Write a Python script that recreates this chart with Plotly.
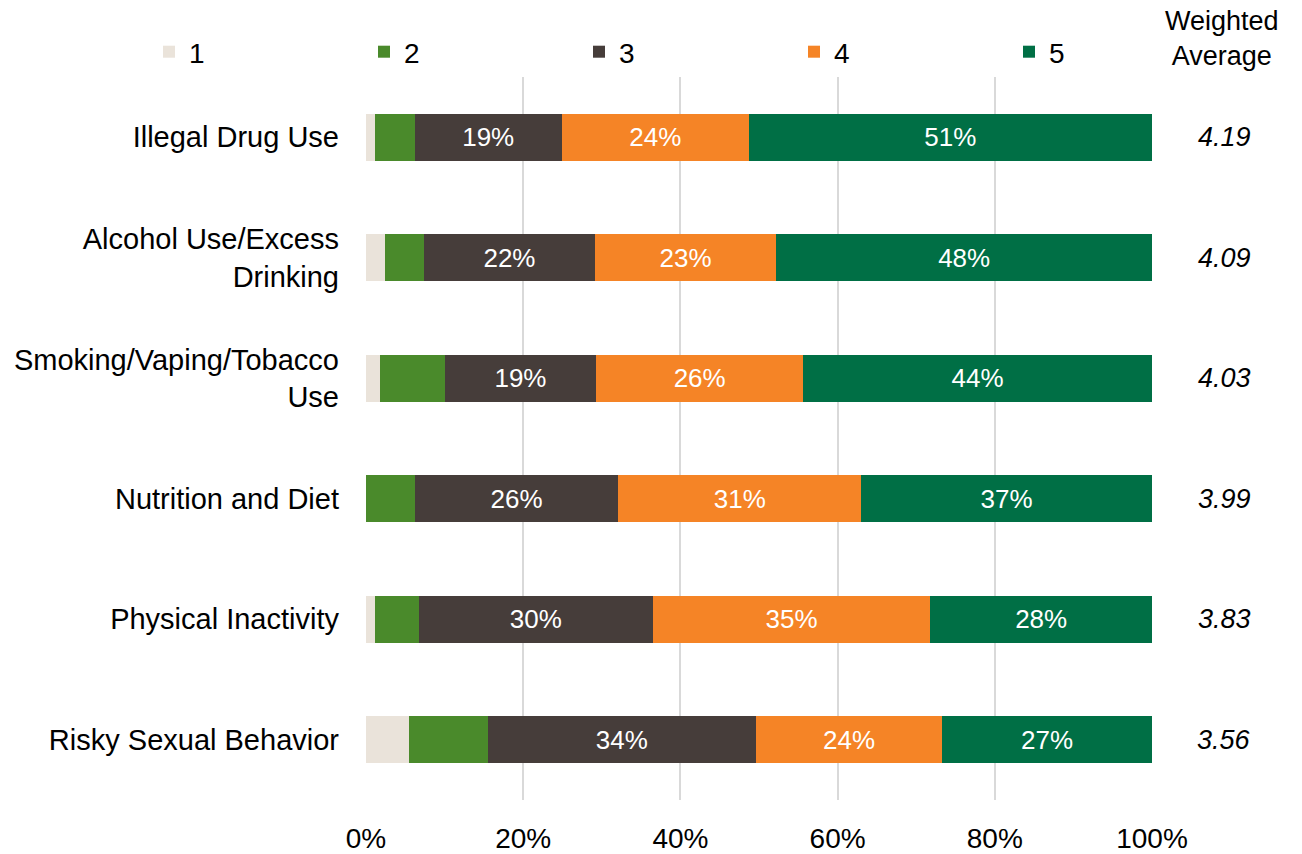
import plotly.graph_objects as go

categories = ["Illegal Drug Use", "Alcohol Use/Excess<br>Drinking", "Smoking/Vaping/Tobacco<br>Use",
              "Nutrition and Diet", "Physical Inactivity", "Risky Sexual Behavior"]
s1 = [1.2, 2.4, 1.8, 0.0, 1.1, 5.5]
s2 = [5.0, 5.0, 8.2, 6.2, 5.6, 10.0]
s3 = [18.7, 21.7, 19.3, 25.9, 29.8, 34.1]
s4 = [23.8, 23.1, 26.3, 30.9, 35.3, 23.7]
s5 = [51.3, 47.8, 44.4, 37.0, 28.2, 26.7]
weighted = ["4.19", "4.09", "4.03", "3.99", "3.83", "3.56"]
series_names = ["1", "2", "3", "4", "5"]
colors = ["#EAE3DA", "#4A8A2B", "#463D3A", "#F58426", "#006F45"]
FONT = "Tahoma, Liberation Sans, Arial, sans-serif"
FS = 28

L, R, T, B = 366, 1152, 77, 800
W, H = 1302, 854

def px_x(p):
    return (p - L) / (R - L)

def px_y(p):
    return (B - p) / (B - T)

fig = go.Figure()
for i, (name, vals) in enumerate(zip(series_names, [s1, s2, s3, s4, s5])):
    show = i >= 2
    fig.add_trace(go.Bar(
        y=categories, x=vals, name=name, orientation="h",
        marker=dict(color=colors[i], line=dict(width=0)),
        text=[f"{v:.0f}%" for v in vals] if show else None,
        textposition="inside" if show else "none",
        insidetextanchor="middle",
        textfont=dict(color="white", size=26, family=FONT),
        hoverinfo="skip",
    ))

for c, w in zip(categories, weighted):
    fig.add_annotation(x=px_x(1224), xref="paper", y=c, yref="y",
                       text=f"<i>{w}</i>", showarrow=False, xanchor="center",
                       font=dict(size=27, family=FONT, color="#000"))

fig.add_annotation(x=px_x(1222), xref="paper", y=px_y(39), yref="paper",
                   text="Weighted<br>Average", showarrow=False, xanchor="center", yanchor="middle",
                   font=dict(size=27, family=FONT, color="#000"))

fig.update_layout(
    barmode="stack",
    bargap=0.61,
    width=W, height=H,
    margin=dict(l=L, r=W - R, t=T, b=H - B, autoexpand=False),
    plot_bgcolor="white", paper_bgcolor="white",
    font=dict(family=FONT, size=FS, color="#000"),
    showlegend=True,
    legend=dict(orientation="h", xref="paper", yref="paper", x=px_x(149), y=px_y(52),
                xanchor="left", yanchor="middle", entrywidth=170, entrywidthmode="pixels",
                font=dict(size=28, family=FONT, color="#000"), traceorder="normal",
                itemwidth=30, bgcolor="rgba(0,0,0,0)"),
    xaxis=dict(range=[0, 100], tickvals=[0, 20, 40, 60, 80, 100],
               ticktext=["0%", "20%", "40%", "60%", "80%", "100%"],
               showgrid=True, gridcolor="#D9D9D9", gridwidth=2, zeroline=False,
               showline=False, ticks="", ticklabelstandoff=19,
               tickfont=dict(size=28, family=FONT, color="#000"), fixedrange=True),
    yaxis=dict(autorange="reversed", showgrid=False, ticks="", ticklabelstandoff=26,
               tickfont=dict(size=29, family=FONT, color="#000"), showline=False),
)

fig.write_html("out.html")
